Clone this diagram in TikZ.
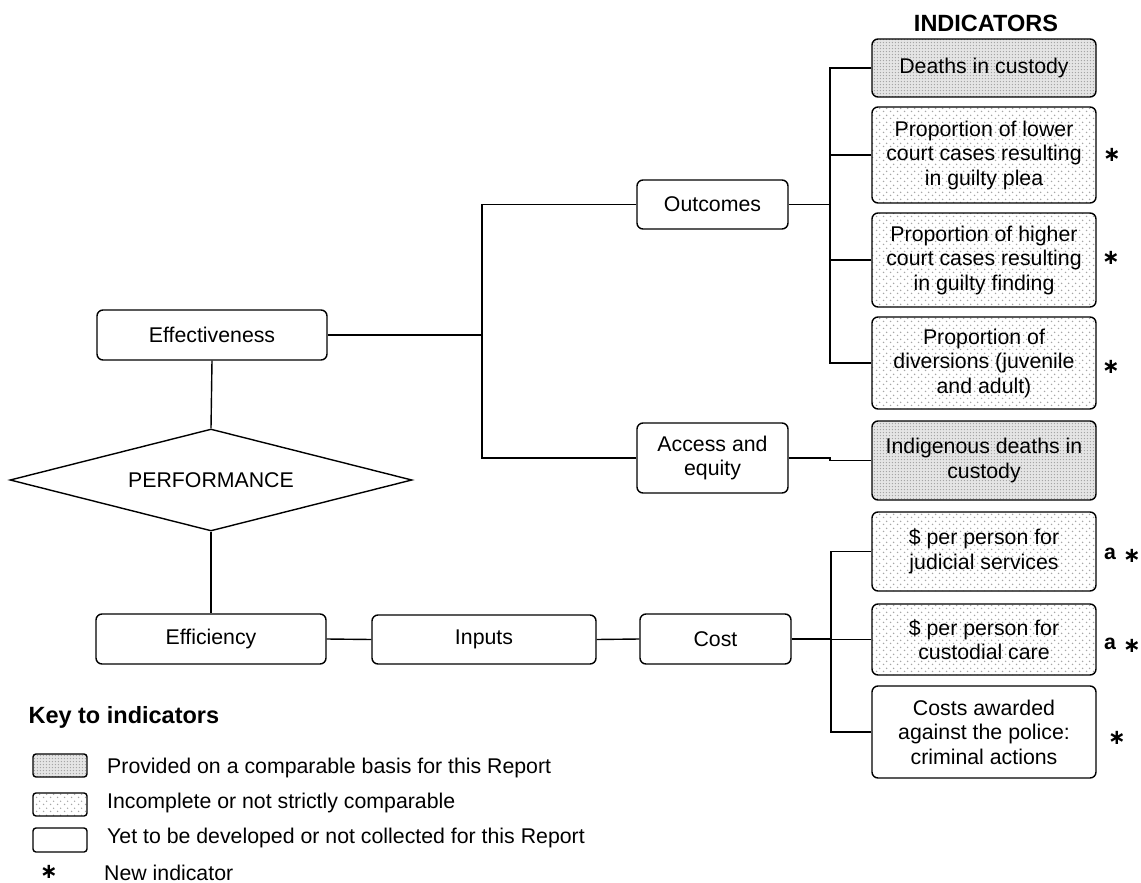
\documentclass[tikz,border=0pt]{standalone}
\usepackage{fontspec}
\setmainfont{Liberation Sans}
\newfontfamily\starfont{DejaVu Sans}
\usetikzlibrary{shapes.geometric,patterns}
\pgfdeclarepatternformonly{densedots}{\pgfpointorigin}{\pgfpoint{3.4pt}{3.4pt}}{\pgfpoint{3.4pt}{3.4pt}}{%
  \pgfpathcircle{\pgfpoint{1.7pt}{1.7pt}}{0.85pt}\pgfusepath{fill}}
\pgfdeclarepatternformonly{sparsedots}{\pgfpointorigin}{\pgfpoint{7pt}{7pt}}{\pgfpoint{7pt}{7pt}}{%
  \pgfpathcircle{\pgfpoint{1.75pt}{1.75pt}}{0.9pt}%
  \pgfpathcircle{\pgfpoint{5.25pt}{5.25pt}}{0.9pt}\pgfusepath{fill}}
\begin{document}
\begin{tikzpicture}[x=1pt,y=-1pt,
  every node/.style={font=\fontsize{21.3}{24.5}\selectfont},
  heading/.style={font=\fontsize{23.5}{28}\selectfont\bfseries},
  boldlbl/.style={font=\fontsize{21.3}{24.5}\selectfont\bfseries},
  starlbl/.style={font=\fontsize{21}{21}\starfont\bfseries, inner sep=0pt, anchor=base},
  box/.style={draw, line width=1.4pt, rounded corners=6pt, align=center, inner sep=0pt},
  darkbox/.style={box, preaction={fill=gray!20}, pattern=densedots, pattern color=gray!70},
  lightbox/.style={box, pattern=sparsedots, pattern color=gray!70},
  keytext/.style={anchor=west, inner sep=1pt},
  conn/.style={line width=1.4pt}
]
\useasboundingbox (0,0) rectangle (1141,883);

% left / middle nodes
\node[box, minimum width=230pt, minimum height=50pt] (eff) at (212,335) {Effectiveness};
\node[draw, line width=1.4pt, diamond, aspect=3.94, inner sep=0pt,
      minimum width=402pt, minimum height=102pt] (perf) at (211,480) {PERFORMANCE};
\node[box, minimum width=230pt, minimum height=50pt] (effic) at (211,639) {Efficiency};
\node[box, minimum width=224pt, minimum height=49pt] (inputs) at (484,639.5) {Inputs};
\node[box, minimum width=151pt, minimum height=50pt] (cost) at (715.5,639) {Cost};
\node[box, minimum width=151pt, minimum height=49pt] (outc) at (712.5,204.5) {Outcomes};
\node[box, minimum width=151pt, minimum height=70pt] (access) at (712.5,458) {Access and\\equity};

% indicators
\node[heading] (ind) at (986,23) {INDICATORS};
\node[darkbox, minimum width=224pt, minimum height=58pt] (d1) at (984,68) {Deaths in custody};
\node[lightbox, minimum width=224pt, minimum height=96pt] (d2) at (984,155) {Proportion of lower\\court cases resulting\\in guilty plea};
\node[lightbox, minimum width=224pt, minimum height=94pt] (d3) at (984,260) {Proportion of higher\\court cases resulting\\in guilty finding};
\node[lightbox, minimum width=224pt, minimum height=92pt] (d4) at (984,363) {Proportion of\\diversions (juvenile\\and adult)};
\node[darkbox, minimum width=224pt, minimum height=79pt] (d5) at (984,460.5) {Indigenous deaths in\\custody};
\node[lightbox, minimum width=224pt, minimum height=79pt] (c1) at (984,551.5) {\$ per person for\\judicial services};
\node[lightbox, minimum width=224pt, minimum height=71pt] (c2) at (984,639.5) {\$ per person for\\custodial care};
\node[box, minimum width=224pt, minimum height=92pt] (c3) at (984,732) {Costs awarded\\against the police:\\criminal actions};

% markers (star glyph centre about 6.5pt above its baseline)
\node[starlbl] (s2) at (1112,161.5) {∗};
\node[starlbl] (s3) at (1111,264.5) {∗};
\node[starlbl] (s4) at (1111,373.5) {∗};
\node[boldlbl] (a1) at (1110,554) {a};
\node[starlbl] (s5) at (1132,562.5) {∗};
\node[boldlbl] (a2) at (1110,644) {a};
\node[starlbl] (s6) at (1132,652.5) {∗};
\node[starlbl] (s7) at (1117,744.5) {∗};

% connectors
\coordinate (j1) at (482,335);
\coordinate (j2) at (830,0);
\coordinate (j3) at (831,0);
\draw[conn] (eff.east) -- (j1);
\draw[conn] (outc.west) -- (outc.west -| j1) -- (access.west -| j1) -- (access.west);
\draw[conn] (outc.east) -- (outc.east -| j2);
\draw[conn] (d1.west) -- (d1.west -| j2) -- (d4.west -| j2) -- (d4.west);
\draw[conn] (d2.west) -- (d2.west -| j2);
\draw[conn] (d3.west) -- (d3.west -| j2);
\draw[conn] (access.east) -- (access.east -| j2) |- (d5.west);
\draw[conn] (eff.south) -- (perf.north);
\draw[conn] (perf.south) -- (effic.north);
\draw[conn] (effic.east) -- (inputs.west);
\draw[conn] (inputs.east) -- (cost.west);
\draw[conn] (cost.east) -- (cost.east -| j3);
\draw[conn] (c1.west) -- (c1.west -| j3) -- (c3.west -| j3) -- (c3.west);
\draw[conn] (c2.west) -- (c2.west -| j3);

% key
\node[heading, anchor=west] (keyt) at (25,717) {Key to indicators};
\node[darkbox, rounded corners=3pt, minimum width=54pt, minimum height=23pt] (k1) at (60,765.5) {};
\node[lightbox, rounded corners=3pt, minimum width=54pt, minimum height=23pt] (k2) at (60,804.5) {};
\node[box, rounded corners=3pt, minimum width=54pt, minimum height=24pt] (k3) at (60,840) {};
\node[starlbl] (k4) at (49,878) {∗};
\node[keytext] (t1) at (106,768) {Provided on a comparable basis for this Report};
\node[keytext] (t2) at (106,803) {Incomplete or not strictly comparable};
\node[keytext] (t3) at (106,838) {Yet to be developed or not collected for this Report};
\node[keytext] (t4) at (103,873) {New indicator};
\end{tikzpicture}
\end{document}
